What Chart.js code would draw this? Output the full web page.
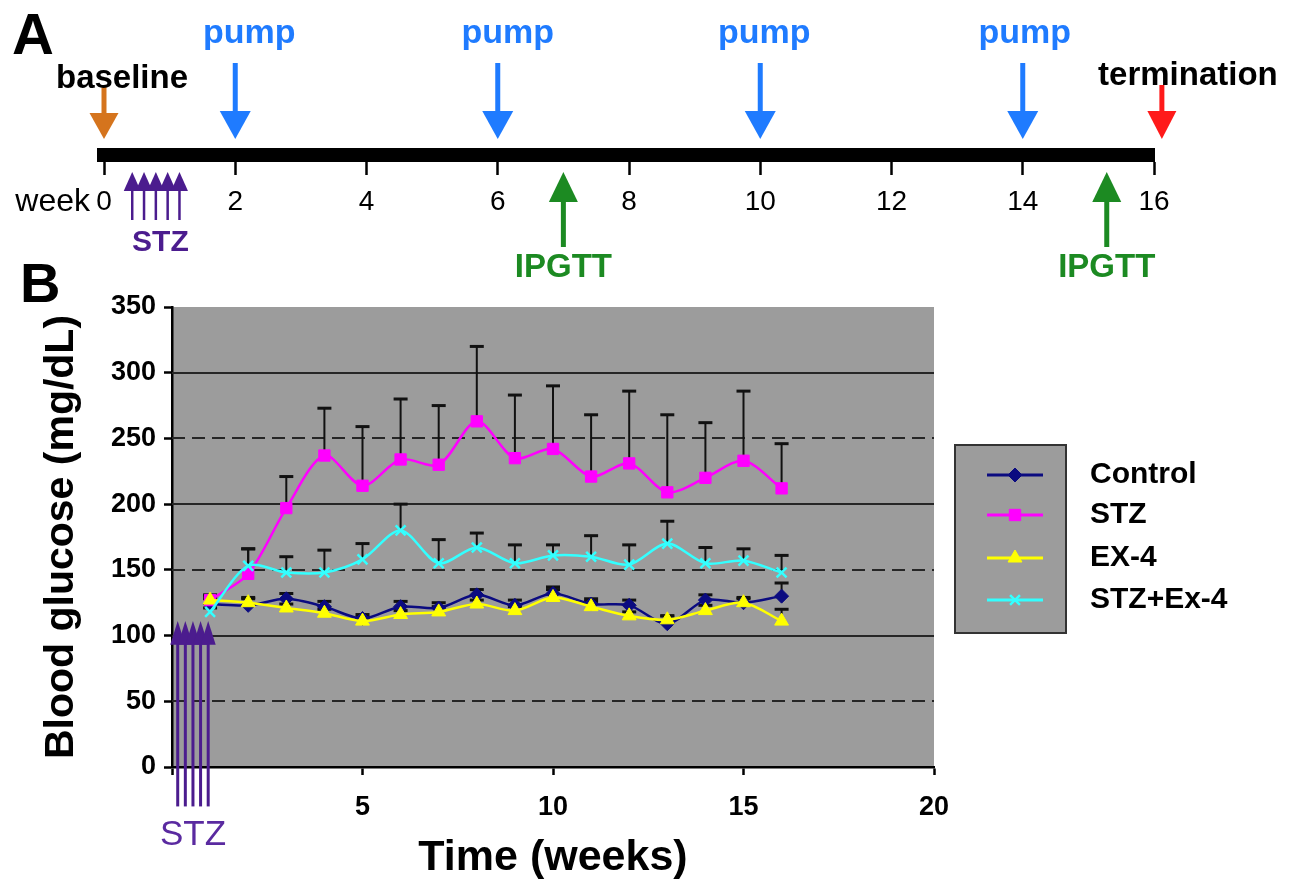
<!DOCTYPE html>
<html>
<head>
<meta charset="utf-8">
<script src="https://cdn.jsdelivr.net/npm/chart.js@4"></script>
<style>
  html, body { margin: 0; padding: 0; background: #fff; }
  #page { position: relative; width: 1297px; height: 884px; overflow: hidden; }
  #timeline { position: absolute; left: 0; top: 0; }
  #glucose { position: absolute; left: 0; top: 250px; }
</style>
</head>
<body>
<div id="page">
  <canvas id="timeline" width="1297" height="290"></canvas>
  <canvas id="glucose" width="1297" height="634"></canvas>
</div>
<script>
/*
    Data
*/
const weeks = [1, 2, 3, 4, 5, 6, 7, 8, 9, 10, 11, 12, 13, 14, 15, 16];

const controlMean = [124, 123, 128, 122, 113, 122, 121, 131, 123, 132, 124, 123, 109, 127, 125, 130];
const controlSem  = [4, 5, 4, 4, 3, 4, 4, 4, 4, 5, 4, 4, 6, 4, 4, 10];
const stzMean     = [127, 147, 197, 237, 214, 234, 230, 263, 235, 242, 221, 231, 209, 220, 233, 212];
const stzSem      = [4, 19, 24, 36, 45, 46, 45, 57, 48, 48, 47, 55, 59, 42, 53, 34];
const ex4Mean     = [127, 125, 121, 117, 111, 116, 118, 124, 119, 129, 122, 115, 112, 119, 125, 111];
const ex4Sem      = [3, 4, 3, 3, 3, 3, 4, 3, 3, 6, 4, 3, 3, 4, 3, 9];
const stzEx4Mean  = [118, 153, 148, 148, 158, 180, 155, 167, 155, 161, 160, 154, 170, 155, 157, 148];
const stzEx4Sem   = [3, 13, 12, 17, 12, 20, 18, 11, 14, 8, 16, 15, 17, 12, 9, 13];

const seriesNames = ['Control', 'STZ', 'EX-4', 'STZ+Ex-4'];

// axis ranges
const glucoseMin = 0, glucoseMax = 350, glucoseStep = 50;
const timeMin = 0, timeMax = 20, timeStep = 5;

// timeline (panel A), in weeks
const timelineMax = 16, timelineStep = 2;
const pumpWeeks = [2, 6, 10, 14];
const ipgttWeeks = [7, 15.28];
const stzWeeksA = [0.43, 0.61, 0.79, 0.97, 1.15];
const baselineWeek = 0;
const terminationWeek = 16.12;

// STZ injections drawn on panel B
const stzWeeksB = [0.15, 0.35, 0.55, 0.75, 0.95];

Chart.defaults.font.family = '"Liberation Sans", Arial, Helvetica, sans-serif';
Chart.defaults.color = '#000';

const FONT = '"Liberation Sans", Arial, Helvetica, sans-serif';
const PURPLE = '#4b1c8e';
const GREEN = '#1c8a22';
const BLUE = '#1f7bff';

function arrow(ctx, x, yTail, yTip, headLen, headW, shaftW, color) {
    const dir = yTip > yTail ? 1 : -1;
    const yBase = yTip - dir * headLen;
    ctx.save();
    ctx.strokeStyle = color;
    ctx.fillStyle = color;
    ctx.lineWidth = shaftW;
    ctx.beginPath();
    ctx.moveTo(x, yTail);
    ctx.lineTo(x, yBase + dir); // overlap head a bit
    ctx.stroke();
    ctx.beginPath();
    ctx.moveTo(x - headW / 2, yBase);
    ctx.lineTo(x + headW / 2, yBase);
    ctx.lineTo(x, yTip);
    ctx.closePath();
    ctx.fill();
    ctx.restore();
}

function text(ctx, str, x, y, font, color, align, baseline) {
    ctx.save();
    ctx.font = font;
    ctx.fillStyle = color;
    ctx.textAlign = align || 'center';
    ctx.textBaseline = baseline || 'middle';
    ctx.fillText(str, x, y);
    ctx.restore();
}

/*
    Panel A - timeline
*/
const pumpLabelShift = [14, 10, 4, 2]; // labels sit a bit right of the arrows

const timelinePlugin = {
    id: 'timelineMarks',
    afterDraw(chart) {
        const ctx = chart.ctx;
        const x = chart.scales.x;

        text(ctx, 'A', 12, 54, 'bold 58px ' + FONT, '#000', 'left', 'alphabetic');

        // pumps
        pumpWeeks.forEach((w, i) => {
            const px = x.getPixelForValue(w);
            arrow(ctx, px, 63, 139, 28, 31, 5, BLUE);
            text(ctx, 'pump', px + pumpLabelShift[i], 43, 'bold 34px ' + FONT, BLUE, 'center', 'alphabetic');
        });

        // baseline
        const pb = x.getPixelForValue(baselineWeek);
        arrow(ctx, pb, 85, 139, 26, 29, 5, '#d5741d');
        text(ctx, 'baseline', pb + 18, 88, 'bold 33px ' + FONT, '#000', 'center', 'alphabetic');

        // termination
        const pt = x.getPixelForValue(terminationWeek);
        arrow(ctx, pt, 85, 139, 28, 29, 5, '#ff1a1a');
        text(ctx, 'termination', pt + 26, 85, 'bold 33px ' + FONT, '#000', 'center', 'alphabetic');

        // IPGTT
        ipgttWeeks.forEach(w => {
            const px = x.getPixelForValue(w);
            arrow(ctx, px, 247, 172, 30, 29, 5, GREEN);
            text(ctx, 'IPGTT', px, 268, 'bold 33px ' + FONT, GREEN);
        });

        // STZ injections
        stzWeeksA.forEach(w => {
            arrow(ctx, x.getPixelForValue(w), 220, 172, 19, 17, 2.5, PURPLE);
        });
        text(ctx, 'STZ', x.getPixelForValue(0.86), 243, 'bold 30px ' + FONT, PURPLE);

        text(ctx, 'week', 90, 202, '32px ' + FONT, '#000', 'right');
    }
};

new Chart(document.getElementById('timeline'), {
    type: 'scatter',
    data: { datasets: [] },
    options: {
        responsive: false,
        animation: false,
        layout: { padding: { left: 104, right: 143, top: 0, bottom: 0 } },
        plugins: { legend: { display: false }, tooltip: { enabled: false } },
        scales: {
            x: {
                type: 'linear',
                min: 0,
                max: timelineMax,
                afterFit: s => { s.height = 135; },
                ticks: { stepSize: timelineStep, font: { size: 28 }, padding: 10, color: '#000' },
                grid: { drawOnChartArea: false, tickLength: 20, tickWidth: 2.5, tickColor: '#000' },
                border: { color: '#000', width: 14 }
            },
            y: { display: false, min: 0, max: 1 }
        }
    },
    plugins: [timelinePlugin]
});

/*
    Panel B - blood glucose
*/
const errors = [controlSem, stzSem, ex4Sem, stzEx4Sem];

const glucosePlugin = {
    id: 'glucoseExtras',
    beforeDraw(chart) {
        const { ctx, chartArea: a } = chart;
        ctx.save();
        ctx.fillStyle = '#9c9c9c';
        ctx.fillRect(a.left, a.top, a.right - a.left, a.bottom - a.top);
        ctx.restore();
    },
    beforeDatasetsDraw(chart) {
        const { ctx, chartArea: a } = chart;
        const x = chart.scales.x, y = chart.scales.y;
        ctx.save();
        // grid lines: solid on hundreds, dashed in between
        for (let v = glucoseMin + glucoseStep; v < glucoseMax; v += glucoseStep) {
            const py = Math.round(y.getPixelForValue(v));
            ctx.strokeStyle = '#262626';
            ctx.lineWidth = 2;
            ctx.setLineDash(v % 100 === 0 ? [] : [13, 7]);
            ctx.beginPath();
            ctx.moveTo(a.left, py);
            ctx.lineTo(a.right, py);
            ctx.stroke();
        }
        ctx.setLineDash([]);
        // error bars (upper)
        ctx.strokeStyle = '#111';
        chart.data.datasets.forEach((ds, i) => {
            ds.data.forEach((p, j) => {
                const px = x.getPixelForValue(p.x);
                const y0 = y.getPixelForValue(p.y);
                const y1 = y.getPixelForValue(p.y + errors[i][j]);
                ctx.lineWidth = 2;
                ctx.beginPath();
                ctx.moveTo(px, y0);
                ctx.lineTo(px, y1);
                ctx.stroke();
                ctx.lineWidth = 3;
                ctx.beginPath();
                ctx.moveTo(px - 7, y1);
                ctx.lineTo(px + 7, y1);
                ctx.stroke();
            });
        });
        ctx.restore();
    },
    afterDraw(chart) {
        const ctx = chart.ctx;
        const x = chart.scales.x, y = chart.scales.y;

        text(ctx, 'B', 20, 52, 'bold 56px ' + FONT, '#000', 'left', 'alphabetic');

        // STZ injections
        stzWeeksB.forEach(w => {
            arrow(ctx, x.getPixelForValue(w), y.getPixelForValue(-30), y.getPixelForValue(111),
                  y.getPixelForValue(93) - y.getPixelForValue(111), 15, 3, PURPLE);
        });
        text(ctx, 'STZ', x.getPixelForValue(0.55), 585, '35px ' + FONT, '#5a2aa0');

        // legend
        ctx.save();
        ctx.fillStyle = '#9c9c9c';
        ctx.fillRect(955, 195, 111, 188);
        ctx.strokeStyle = '#333';
        ctx.lineWidth = 2;
        ctx.strokeRect(955, 195, 111, 188);
        const rows = [225, 265, 308, 350];
        chart.data.datasets.forEach((ds, i) => {
            const ly = rows[i];
            ctx.strokeStyle = ds.borderColor;
            ctx.fillStyle = ds.backgroundColor;
            ctx.lineWidth = 3;
            ctx.beginPath();
            ctx.moveTo(987, ly);
            ctx.lineTo(1043, ly);
            ctx.stroke();
            ctx.lineWidth = ds.pointBorderWidth || 1;
            Chart.helpers.drawPoint(ctx, {
                pointStyle: ds.pointStyle,
                radius: ds.pointRadius,
                borderWidth: ds.pointBorderWidth || 1,
                rotation: 0
            }, 1015, ly);
            text(ctx, seriesNames[i], 1090, ly, 'bold 30px ' + FONT, '#000', 'left');
        });
        ctx.restore();
    }
};

function series(label, means, color, style, radius) {
    return {
        label: label,
        data: weeks.map((w, i) => ({ x: w, y: means[i] })),
        borderColor: color,
        backgroundColor: color,
        pointBackgroundColor: color,
        pointBorderColor: color,
        borderWidth: 2.5,
        pointStyle: style,
        pointRadius: radius,
        pointBorderWidth: style === 'crossRot' ? 2.5 : 1,
        showLine: true,
        tension: 0.3
    };
}

const dsControl = series(seriesNames[0], controlMean, '#0b0b80', 'rectRot', 7);
const dsStz = series(seriesNames[1], stzMean, '#ff00ff', 'rect', 8);
const dsEx4 = series(seriesNames[2], ex4Mean, '#ffff00', 'triangle', 8);
const dsStzEx4 = series(seriesNames[3], stzEx4Mean, '#33ffff', 'crossRot', 7);
// later series on top, like the original spreadsheet
dsControl.order = 4; dsStz.order = 3; dsEx4.order = 2; dsStzEx4.order = 1;

new Chart(document.getElementById('glucose'), {
    type: 'scatter',
    data: { datasets: [dsControl, dsStz, dsEx4, dsStzEx4] },
    options: {
        responsive: false,
        animation: false,
        layout: { padding: { left: 0, right: 363, top: 57, bottom: 0 } },
        plugins: { legend: { display: false }, tooltip: { enabled: false } },
        scales: {
            x: {
                type: 'linear',
                min: timeMin,
                max: timeMax,
                afterFit: s => { s.height = 117; },
                ticks: {
                    stepSize: timeStep,
                    font: { size: 27, weight: 'bold' },
                    padding: 16,
                    callback: v => (v === 0 ? '' : v)
                },
                grid: { drawOnChartArea: false, tickLength: 8, tickWidth: 2.5, tickColor: '#000' },
                border: { color: '#000', width: 2.5 },
                title: {
                    display: true,
                    text: 'Time (weeks)',
                    font: { size: 43, weight: 'bold' },
                    padding: { top: 0, bottom: 0 }
                }
            },
            y: {
                min: glucoseMin,
                max: glucoseMax,
                afterFit: s => { s.width = 172; },
                ticks: { stepSize: glucoseStep, font: { size: 27, weight: 'bold' }, padding: 8 },
                grid: { drawOnChartArea: false, tickLength: 8, tickWidth: 2.5, tickColor: '#000' },
                border: { color: '#000', width: 2.5 },
                title: {
                    display: true,
                    text: 'Blood glucose (mg/dL)',
                    font: { size: 41, weight: 'bold' },
                    padding: { top: 37, bottom: 0 }
                }
            }
        }
    },
    plugins: [glucosePlugin]
});
</script>
</body>
</html>
